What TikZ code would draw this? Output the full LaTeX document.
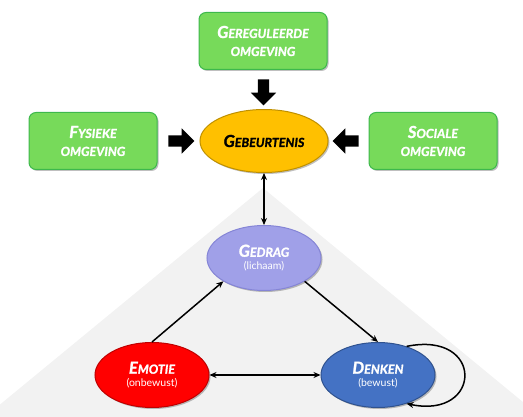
\documentclass[tikz,border=0pt]{standalone}
\usepackage{fontspec}
\setmainfont{Lato}[FakeBold=1.4]
\newfontfamily\plainfont{Lato}
\usetikzlibrary{arrows.meta, calc, shapes.geometric, shapes.arrows, shadows}
\definecolor{envgreen}{HTML}{77DA5A}
\definecolor{envborder}{HTML}{3DB84C}
\definecolor{evgold}{HTML}{FFC000}
\definecolor{evborder}{HTML}{BF9000}
\definecolor{lavender}{HTML}{A0A0E8}
\definecolor{lavborder}{HTML}{8585D6}
\definecolor{emored}{HTML}{FF0000}
\definecolor{emoborder}{HTML}{C00000}
\definecolor{thinkblue}{HTML}{4472C4}
\definecolor{thinkborder}{HTML}{2F528F}
\definecolor{fieldgray}{HTML}{F2F2F2}

% fake small caps: big first letter, smaller rest
\newcommand{\sckap}[2]{{\fontsize{16.5}{18}\selectfont #1}#2}
\newcommand{\subtxt}[1]{{\plainfont\mdseries\upshape\fontsize{10.5}{12}\selectfont #1}}

\tikzset{
  soft shadow/.style={drop shadow={shadow xshift=1.5pt, shadow yshift=-1.5pt, opacity=0.25, fill=black}},
  envbox/.style={draw=envborder, fill=envgreen, line width=1pt, rounded corners=7pt,
    minimum width=128pt, minimum height=57pt, align=center, text=white,
    font=\fontsize{12.5}{18}\selectfont\bfseries\itshape, soft shadow},
  state/.style={ellipse, line width=1pt, inner sep=0pt, minimum width=114pt,
    minimum height=65pt, align=center, text=white,
    font=\fontsize{12.5}{15}\selectfont\bfseries\itshape, soft shadow},
  blockarrow/.style={single arrow, fill=black, inner sep=5.5pt, minimum width=25pt,
    minimum height=26pt, single arrow head extend=7pt},
  link/.style={-{Stealth[length=7pt, width=6pt]}, line width=1.5pt},
  duplex/.style={{Stealth[length=7pt, width=6pt]}-{Stealth[length=7pt, width=6pt]}, line width=1.5pt}
}

\begin{document}
\begin{tikzpicture}[x=1pt, y=-1pt]
\useasboundingbox (0,0) rectangle (523,417);

% Gray field behind the cycle
\begin{scope}
  \clip (0,0) rectangle (523,417);
  \fill[fieldgray] (263,188) -- (-20,421) -- (546,421) -- cycle;
\end{scope}

%% Environment boxes
\node[envbox] (regul) at (263,41) {\sckap{G}{EREGULEERDE}\\OMGEVING};
\node[envbox] (fysiek) at (93,141) {\sckap{F}{YSIEKE}\\OMGEVING};
\node[envbox] (sociaal) at (433,141) {\sckap{S}{OCIALE}\\OMGEVING};

%% Event
\node[state, draw=evborder, fill=evgold, text=black, minimum width=128pt, minimum height=63pt]
  (gebeurt) at (264,141) {\sckap{G}{EBEURTENIS}};

% Block arrows into the event
\node[blockarrow, shape border rotate=270] (pijlboven) at ($(regul.south)!0.5!(gebeurt.north)$) {};
\node[blockarrow] (pijllinks) at ($(fysiek.east)!0.5!(gebeurt.west)$) {};
\node[blockarrow, shape border rotate=180] (pijlrechts) at ($(sociaal.west)!0.5!(gebeurt.east)$) {};

%% Cycle
\node[state, draw=lavborder, fill=lavender] (gedrag) at (264,258)
  {\sckap{G}{EDRAG}\\[-2pt]\subtxt{(lichaam)}};
\node[state, draw=emoborder, fill=emored] (emotie) at (152,375)
  {\sckap{E}{MOTIE}\\[-2pt]\subtxt{(onbewust)}};
\node[state, draw=thinkborder, fill=thinkblue] (denken) at (378,375)
  {\sckap{D}{ENKEN}\\[-2pt]\subtxt{(bewust)}};

% Connections
\draw[duplex] (gebeurt.south) -- (gedrag.north);
\draw[link] (emotie.north) -- (gedrag.south west);
\draw[link] (gedrag.south east) -- (denken.north);
\draw[duplex] (emotie.east) -- (denken.west);
\draw[link] (denken.45) .. controls +(78,-16) and +(76,16) .. (denken.-45);

\end{tikzpicture}
\end{document}
